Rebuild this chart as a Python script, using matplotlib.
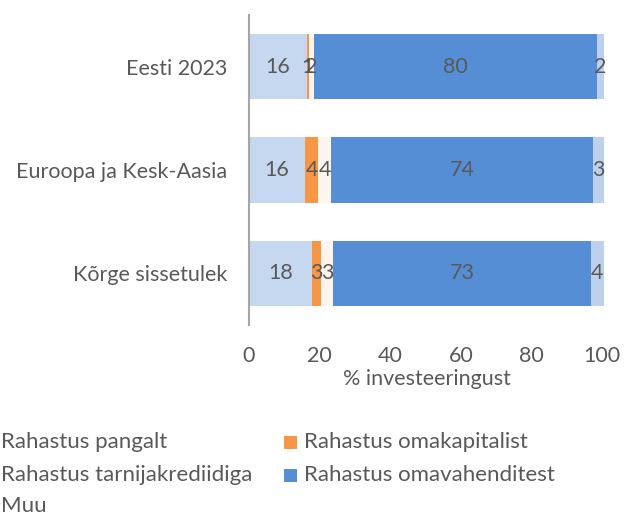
import matplotlib
matplotlib.use("Agg")
import matplotlib.pyplot as plt
from matplotlib.patches import Rectangle
import numpy as np

categories = ["Eesti 2023", "Euroopa ja Kesk-Aasia", "Kõrge sissetulek"]
series = ["Rahastus pangalt", "Rahastus omakapitalist", "Rahastus tarnijakrediidiga",
          "Rahastus omavahenditest", "Muu"]
pangalt = [16.3, 15.9, 17.9]
omakapitalist = [0.6, 3.7, 2.6]
tarnijakrediidiga = [1.6, 3.6, 3.4]
omavahenditest = [79.9, 74.2, 72.9]
muu = [2.1, 3.1, 3.7]
values = [pangalt, omakapitalist, tarnijakrediidiga, omavahenditest, muu]
colors = ["#C6D8F0", "#F79646", "#FEF6EE", "#558ED5", "#BDD1EC"]
xticks = [0, 20, 40, 60, 80, 100]
xlabel = "% investeeringust"

plt.rcParams['font.family'] = ['Lato', 'DejaVu Sans']
txt = "#595959"
fs = 15.5
fs_leg = 16

W, H = 625, 515
fig = plt.figure(figsize=(W / 100, H / 100), dpi=100)
ax = fig.add_axes([249 / W, (H - 325) / H, (604 - 249) / W, (325 - 15) / H])

y = np.arange(len(categories))
left = np.zeros(len(categories))
for name, vals, c in zip(series, values, colors):
    vals = np.array(vals)
    ax.barh(y, vals, left=left, height=0.63, color=c, label=name, clip_on=False)
    for yi, l, v in zip(y, left, vals):
        ax.text(l + v / 2, yi, f"{v:.0f}", ha="center", va="center", color=txt, fontsize=fs)
    left = left + vals

ax.set_ylim(2.5, -0.5)
ax.set_xlim(0, 100.5)
ax.set_yticks(y)
ax.set_yticklabels(categories, fontsize=fs, color=txt)
ax.set_xticks(xticks)
ax.set_xticklabels([str(t) for t in xticks], fontsize=fs, color=txt)
ax.tick_params(axis="both", length=0)
ax.tick_params(axis="y", pad=15.5)
ax.tick_params(axis="x", pad=15)
ax.set_xlabel(xlabel, fontsize=fs, color=txt, labelpad=2)
for s in ["top", "right", "bottom"]:
    ax.spines[s].set_visible(False)
ax.spines["left"].set_color("#A6A6A6")
ax.spines["left"].set_linewidth(1.5)

# legend (row-major, 2 columns); left-column markers fall off the canvas as in the reference
col_x = [1, 304]
row_y = [442, 475, 506]
for i, (name, c) in enumerate(zip(series, colors)):
    r, col = divmod(i, 2)
    tx = col_x[col]
    ty = row_y[r]
    fig.patches.append(Rectangle(((tx - 20) / W, (H - ty - 6.5) / H), 13 / W, 13 / H,
                                 transform=fig.transFigure, facecolor=c, edgecolor="none"))
    fig.text(tx / W, (H - ty) / H, name, ha="left", va="center", fontsize=fs_leg, color=txt)

fig.savefig("out.png", dpi=100)
